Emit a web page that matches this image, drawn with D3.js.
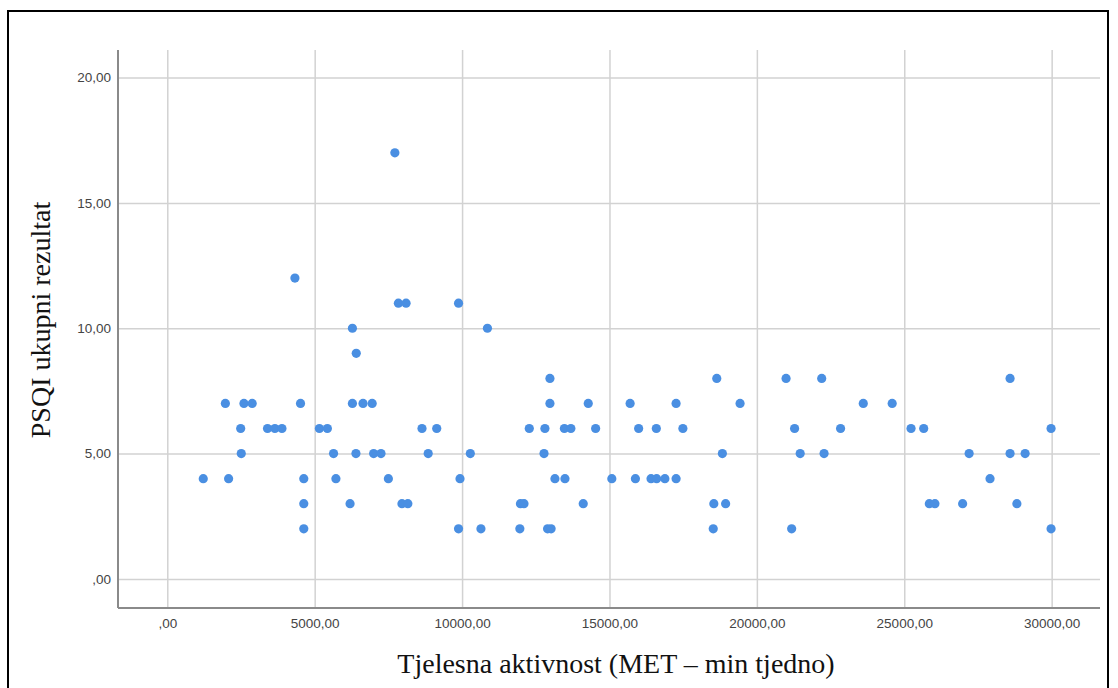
<!DOCTYPE html>
<html>
<head>
<meta charset="utf-8">
<script src="https://cdn.jsdelivr.net/npm/d3@7"></script>
<style>
  body { margin: 0; background: #fff; }
  svg { display: block; }
  .tick text { font-family: "Liberation Sans", Arial, sans-serif; font-size: 13.5px; fill: #444; }
  .axis-title { font-family: "Liberation Serif", "Times New Roman", serif; font-size: 28px; fill: #111; }
</style>
</head>
<body>
<div id="chart"></div>
<script>
'use strict';

// PSQI score rows, each with its activity values (MET-min/week)
var psqiLevels = [17, 12, 11, 10, 9, 8, 7, 6, 5, 4, 3, 2];
var activityByLevel = [
    [7720],
    [4330],
    [7840, 8100, 9880],
    [6280, 10860],
    [6410],
    [12980, 18640, 20990, 22200, 28590],
    [1970, 2600, 2880, 4520, 6280, 6640, 6950, 12980, 14280, 15700, 17260, 19430, 23610, 24590],
    [2490, 3400, 3650, 3890, 5160, 5430, 8640, 9140, 12280, 12810, 13470, 13690, 14530, 15990, 16590, 17490, 21280, 22840, 25230, 25660, 29980],
    [2510, 5640, 6400, 7000, 7250, 8850, 10280, 12780, 18830, 21470, 22280, 27200, 28590, 29100],
    [1220, 2080, 4630, 5720, 7500, 9930, 13150, 13490, 15080, 15880, 16410, 16600, 16880, 17260, 27910],
    [4630, 6200, 7960, 8160, 11980, 12100, 14110, 18540, 18940, 25850, 26040, 26980, 28820],
    [4630, 9880, 10640, 11960, 12900, 13020, 18520, 21180, 29980]
];
var xTicks = [0, 5000, 10000, 15000, 20000, 25000, 30000];
var yTicks = [0, 5, 10, 15, 20];
var xTitle = 'Tjelesna aktivnost (MET \u2013 min tjedno)';
var yTitle = 'PSQI ukupni rezultat';

var width = 1118, height = 688;
var margin = {top: 50, right: 18, bottom: 80, left: 118};
var plotW = width - margin.left - margin.right;
var plotH = height - margin.top - margin.bottom;

var points = [];
psqiLevels.forEach(function (level, i) {
    activityByLevel[i].forEach(function (a) {
        points.push({x: a, y: level});
    });
});

var comma = function (v) { return v === 0 ? ',00' : d3.format('.2f')(v).replace('.', ','); };

var svg = d3.select('#chart').append('svg')
    .attr('width', width)
    .attr('height', height);

// outer frame
svg.append('rect')
    .attr('x', 8).attr('y', 11)
    .attr('width', 1100).attr('height', 700)
    .attr('fill', 'none')
    .attr('stroke', '#000')
    .attr('stroke-width', 2);

var g = svg.append('g').attr('transform', 'translate(' + margin.left + ',' + margin.top + ')');

var x = d3.scaleLinear().domain([-1672, 31640]).range([0, plotW]);
var y = d3.scaleLinear().domain([-1.16, 21.1]).range([plotH, 0]);

var xAxis = g.append('g')
    .attr('transform', 'translate(0,' + plotH + ')')
    .call(d3.axisBottom(x).tickValues(xTicks).tickFormat(comma).tickSize(-plotH).tickPadding(10));

var yAxis = g.append('g')
    .call(d3.axisLeft(y).tickValues(yTicks).tickFormat(comma).tickSize(-plotW).tickPadding(7));

[xAxis, yAxis].forEach(function (ax) {
    ax.select('.domain').remove();
    ax.selectAll('.tick line').attr('stroke', '#d2d2d2').attr('stroke-width', 1.5);
});

// axis lines
g.append('line').attr('x1', 0).attr('x2', 0).attr('y1', 0).attr('y2', plotH)
    .attr('stroke', '#8a8a8a').attr('stroke-width', 2);
g.append('line').attr('x1', 0).attr('x2', plotW).attr('y1', plotH).attr('y2', plotH)
    .attr('stroke', '#8a8a8a').attr('stroke-width', 2);

g.selectAll('circle.dot')
    .data(points)
    .enter().append('circle')
    .attr('class', 'dot')
    .attr('cx', function (d) { return x(d.x); })
    .attr('cy', function (d) { return y(d.y); })
    .attr('r', 4.6)
    .attr('fill', '#4a8fe2');

svg.append('text')
    .attr('class', 'axis-title')
    .attr('x', 616)
    .attr('y', 673)
    .attr('text-anchor', 'middle')
    .text(xTitle);

svg.append('text')
    .attr('class', 'axis-title')
    .attr('transform', 'translate(50,' + 320 + ') rotate(-90)')
    .attr('text-anchor', 'middle')
    .text(yTitle);
</script>
</body>
</html>
